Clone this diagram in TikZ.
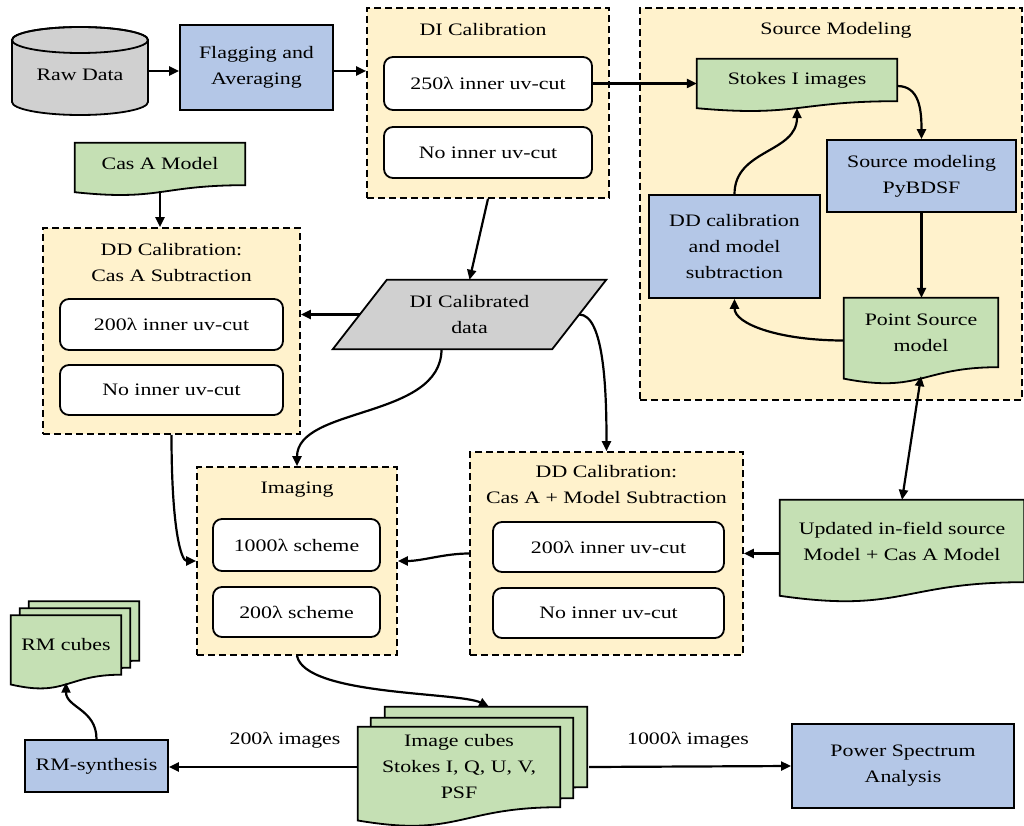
\documentclass[tikz,border=0pt]{standalone}
\usepackage{fontspec}
\setmainfont{Liberation Serif}[FakeStretch=1.25]
\usetikzlibrary{calc,arrows.meta}
\definecolor{cgreen}{HTML}{C5E0B4}
\definecolor{cblue}{HTML}{B4C7E7}
\definecolor{cyel}{HTML}{FFF2CC}
\definecolor{cgray}{HTML}{D0D0D0}
\pgfdeclarelayer{bg}\pgfdeclarelayer{mid}\pgfsetlayers{bg,mid,main}
\newcommand\docbg[3]{%
 \path[docshape] let \p1=(#1.north west), \p2=(#1.south east), \n1={\y1-\y2} in
 ({\x1+#2pt},{\y1+#3pt}) -- ({\x2+#2pt},{\y1+#3pt}) -- ({\x2+#2pt},{\y2+#3pt})
 .. controls ({(\x1+\x2)/2+#2pt},{\y2+#3pt}) and ({(\x1+\x2)/2+#2pt},{\y2-0.38*\n1+#3pt}) .. ({\x1+#2pt},{\y2-0.165*\n1+#3pt}) -- cycle;}
\begin{document}
\begin{tikzpicture}[x=1pt,y=-1pt,font=\fontsize{17.5}{26}\selectfont,
 sz/.style 2 args={minimum width=#1pt,minimum height=#2pt},
 arr/.style={line width=2.2pt,-{Triangle[length=10pt,width=9pt]}},
 darr/.style={line width=2.2pt,{Triangle[length=10pt,width=9pt]}-{Triangle[length=10pt,width=9pt]}},
 bluebox/.style={rectangle,draw,line width=1.8pt,fill=cblue,align=center,inner sep=0pt},
 optbox/.style={rectangle,rounded corners=9pt,draw,line width=1.8pt,fill=white,align=center,inner sep=0pt},
 container/.style={rectangle,draw,fill=cyel,line width=1.6pt,dash pattern=on 7pt off 4pt,inner sep=0pt},
 txtbox/.style={rectangle,inner sep=0pt,align=center},
 docshape/.style={draw,fill=cgreen,line width=1.8pt},
 ttl/.style={align=center,inner sep=0pt}]
\useasboundingbox (0,0) rectangle (1024,826);

% containers
\begin{pgfonlayer}{bg}
\node[container,sz={242}{190}] (dicont) at (488,103) {};
\node[container,sz={382}{392}] (smcont) at (831,204) {};
\node[container,sz={257}{206}] (ddA) at (171.5,331) {};
\node[container,sz={200}{188}] (imgcont) at (297,561) {};
\node[container,sz={273}{203}] (ddB) at (606.5,553.5) {};
\end{pgfonlayer}

\node[ttl] (dititle) at (483,30) {DI Calibration};
\node[ttl] (smtitle) at (836,30) {Source Modeling};
\node[ttl] (ddAtitle) at (171.5,263) {DD Calibration:\\Cas A Subtraction};
\node[ttl] (imgtitle) at (297,490) {Imaging};
\node[ttl] (ddBtitle) at (606.5,484.5) {DD Calibration:\\Cas A + Model Subtraction};

% raw data cylinder
\node[txtbox,sz={136}{88}] (raw) at (80,71) {};
\begin{pgfonlayer}{mid}
\path[fill=cgray,draw,line width=1.8pt] (12,40) -- (12,102) arc[start angle=180,end angle=0,x radius=68,y radius=13] -- (148,40) arc[start angle=0,end angle=-180,x radius=68,y radius=13] -- cycle;
\draw[line width=1.8pt] (80,40) ellipse[x radius=68,y radius=13];
\end{pgfonlayer}
\node[txtbox] (rawtext) at (80,75) {Raw Data};

\node[bluebox,sz={153}{85}] (flag) at (256.5,67.5) {Flagging and\\Averaging};
\node[optbox,sz={208}{53}] (di250) at (488,83.5) {250λ inner uv-cut};
\node[optbox,sz={208}{51}] (dino) at (488,152.5) {No inner uv-cut};

% source modeling
\node[txtbox,sz={200}{42}] (stokes) at (797,80) {Stokes I images};
\node[bluebox,sz={189}{72}] (pybdsf) at (921.5,176) {Source modeling\\PyBDSF};
\node[bluebox,sz={171}{103}] (ddcal) at (734.5,246.5) {DD calibration\\and model\\subtraction};
\node[txtbox,sz={154}{69}] (point) at (921,332.5) {Point Source\\model};
\node[txtbox,sz={244}{82}] (updated) at (902,541) {Updated in-field source\\Model + Cas A Model};

% left column
\node[txtbox,sz={170}{42}] (casa) at (160,164) {Cas A Model};
\node[optbox,sz={223}{51}] (ddA200) at (171.5,324.5) {200λ inner uv-cut};
\node[optbox,sz={223}{50}] (ddAno) at (171.5,390) {No inner uv-cut};

\node[txtbox,sz={219}{69}] (dical) at (469.5,314.5) {DI Calibrated\\data};
\begin{pgfonlayer}{mid}
\path[fill=cgray,draw,line width=1.8pt] ($(dical.north west)+(27,0)$) -- ($(dical.north east)+(27,0)$) -- ($(dical.south east)+(-27,0)$) -- ($(dical.south west)+(-27,0)$) -- cycle;
\end{pgfonlayer}

\node[optbox,sz={167}{52}] (img1000) at (296.5,545) {1000λ scheme};
\node[optbox,sz={167}{50}] (img200) at (296.5,612) {200λ scheme};
\node[optbox,sz={231}{50}] (ddB200) at (608.5,547) {200λ inner uv-cut};
\node[optbox,sz={231}{50}] (ddBno) at (608.5,613) {No inner uv-cut};

% bottom row
\node[txtbox,sz={202}{80}] (cubes) at (459,767) {Image cubes\\Stokes I, Q, U, V,\\PSF};
\node[bluebox,sz={143}{52}] (rmsyn) at (96.5,766) {RM-synthesis};
\node[txtbox,sz={110}{59}] (rmcubes) at (66,645) {RM cubes};
\node[bluebox,sz={222}{84}] (power) at (903,766) {Power Spectrum\\Analysis};
\node[ttl] (lab200) at (285,740) {200λ images};
\node[ttl] (lab1000) at (688,740) {1000λ images};

\begin{pgfonlayer}{mid}
\docbg{stokes}{0}{0}
\docbg{point}{0}{0}
\docbg{updated}{0}{0}
\docbg{casa}{0}{0}
\docbg{cubes}{27}{20}
\docbg{cubes}{13}{9}
\docbg{cubes}{0}{0}
\docbg{rmcubes}{18}{14}
\docbg{rmcubes}{9}{7}
\docbg{rmcubes}{0}{0}
\end{pgfonlayer}

\coordinate (cubesback) at ($(cubes.north)+(30,-20)$);
\coordinate (cubesright) at ($(cubes.east)+(29,0)$);

% connectors
\draw[arr] (raw.east) -- (raw.east -| flag.west);
\draw[arr] (flag.east |- raw.east) -- (raw.east -| dicont.west);
\draw[arr] (di250.east) -- (di250.east -| stokes.west);
\draw[arr] ($(stokes.east)+(0,6)$) .. controls +(22,0) and +(0,-30) .. (pybdsf.north);
\draw[arr] (pybdsf.south) -- (pybdsf.south |- point.north);
\draw[arr] ($(point.west)+(0,8)$) .. controls +(-65,0) and +(0,25) .. (ddcal.south);
\draw[arr] (ddcal.north) .. controls +(0,-45) and +(0,45) .. ($(stokes.south)+(0,7)$);
\draw[darr] ($(point.south)+(0,9)$) -- (updated.north);
\draw[arr] (ddB.east -| updated.west) -- (ddB.east);
\draw[arr] ($(casa.south)+(0,6)$) -- (casa.south |- ddA.north);
\draw[arr] (dical.west) -- (dical.west -| ddA.east);
\draw[arr] (dicont.south) -- (dical.north);
\draw[arr] ($(dical.south)+(-28,0)$) .. controls +(0,70) and +(0,-60) .. (imgcont.north);
\draw[arr] (dical.east) .. controls +(25,0) and +(0,-60) .. (ddB.north);
\draw[arr] (ddA.south) .. controls +(0,95) and +(-15,0) .. (imgcont.west);
\draw[arr] (ddB.west) .. controls +(-25,0) and +(25,0) .. (imgcont.east);
\draw[arr] (imgcont.south) .. controls +(8,40) and +(-30,-15) .. (cubesback);
\draw[arr] (cubes.west) -- (cubes.west -| rmsyn.east);
\draw[arr] (rmsyn.north) .. controls +(0,-30) and +(0,25) .. ($(rmcubes.south)+(0,8)$);
\draw[arr] (cubesright) -- (power.west);
\end{tikzpicture}
\end{document}
